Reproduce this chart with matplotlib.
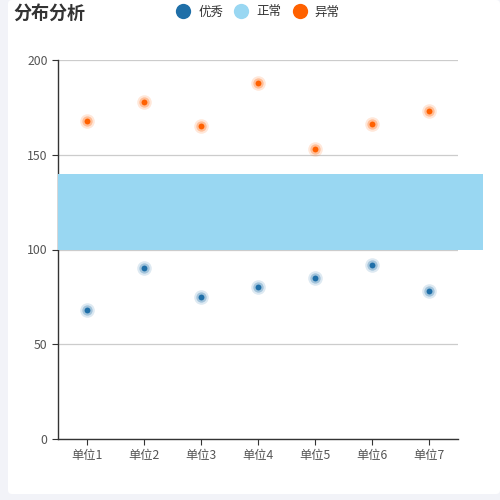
import matplotlib.pyplot as plt
from matplotlib.lines import Line2D
from matplotlib.patches import FancyBboxPatch, Rectangle

plt.rcParams['font.family'] = ['Noto Sans CJK SC', 'DejaVu Sans']

# 数据
units = ['单位1', '单位2', '单位3', '单位4', '单位5', '单位6', '单位7']
good_vals = [68, 90, 75, 80, 85, 92, 78]       # 优秀
bad_vals = [168, 178, 165, 188, 153, 166, 173]  # 异常
normal_low = 100
normal_high = 140

c_good = '#1f6fa8'
c_normal = '#99d7f2'
c_bad = '#ff6100'

fig = plt.figure(figsize=(5, 5), dpi=100)
fig.patch.set_facecolor('#f2f3f8')
# 白色卡片背景
card = FancyBboxPatch((8 / 500, 6 / 500), 492 / 500, 494 / 500,
                      boxstyle='round,pad=0,rounding_size=0.008',
                      transform=fig.transFigure, facecolor='white',
                      edgecolor='none', zorder=-10)
fig.add_artist(card)

ax = fig.add_axes([58 / 500, 61 / 500, 400 / 500, 379 / 500])
ax.set_facecolor('none')

x = list(range(len(units)))

# 正常区间
band = Rectangle((0, normal_low), 1.0625, normal_high - normal_low,
                 transform=ax.get_yaxis_transform(), facecolor=c_normal,
                 edgecolor='none', zorder=3, clip_on=False)
ax.add_patch(band)

# 散点 (带光晕)
for vals, col in [(good_vals, c_good), (bad_vals, c_bad)]:
    ax.scatter(x, vals, s=110, color=col, alpha=0.15, linewidths=0, zorder=4)
    ax.scatter(x, vals, s=55, color=col, alpha=0.3, linewidths=0, zorder=4)
    ax.scatter(x, vals, s=18, color=col, linewidths=0, zorder=5)

ax.set_xlim(-0.5, len(units) - 0.5)
ax.set_ylim(0, 200)
ax.set_xticks(x)
ax.set_xticklabels(units)
ax.set_yticks([0, 50, 100, 150, 200])
ax.grid(axis='y', color='#cccccc', linewidth=0.9, zorder=1)
ax.set_axisbelow(True)
for s in ['top', 'right']:
    ax.spines[s].set_visible(False)
for s in ['left', 'bottom']:
    ax.spines[s].set_color('#333333')
    ax.spines[s].set_linewidth(1)
ax.tick_params(colors='#333333', labelcolor='#555555', labelsize=8.8, length=4)

fig.text(13 / 500, 1 - 13 / 500, '分布分析', fontsize=13, fontweight='bold',
         color='#333333', va='center', ha='left')

handles = [Line2D([], [], marker='o', linestyle='none', markersize=11,
                  markerfacecolor=c, markeredgecolor='none')
           for c in [c_good, c_normal, c_bad]]
fig.legend(handles, ['优秀', '正常', '异常'], loc='center',
           bbox_to_anchor=(257 / 500, 1 - 12 / 500), ncol=3, frameon=False,
           fontsize=9, labelcolor='#333333', handletextpad=0.5,
           columnspacing=0.75, handlelength=1.4)

fig.savefig('out.png', dpi=100)
